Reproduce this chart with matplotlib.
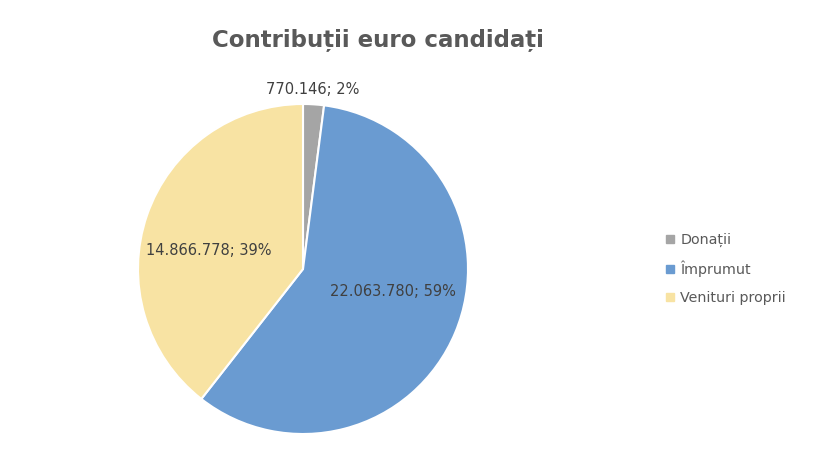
import matplotlib
matplotlib.use("Agg")
import matplotlib.pyplot as plt
import numpy as np

categories = ["Donații", "Împrumut", "Venituri proprii"]
values = [770146, 22063780, 14866778]
colors = ["#A5A5A5", "#6A9BD1", "#F8E3A3"]

W, H = 829, 454
fig = plt.figure(figsize=(W / 100, H / 100), dpi=100)
fig.patch.set_facecolor("white")

cx, cy, r = 303, 269, 165
ax = fig.add_axes([(cx - r) / W, (H - cy - r) / H, 2 * r / W, 2 * r / H])
wedges, _ = ax.pie(values, colors=colors, startangle=90, counterclock=False,
                   radius=1.0, wedgeprops=dict(edgecolor="white", linewidth=1.5))
ax.set_xlim(-1, 1)
ax.set_ylim(-1, 1)
ax.set_aspect("equal")
ax.axis("off")

total = sum(values)
def fmt(v):
    return f"{v:,}".replace(",", ".")

labels = [f"{fmt(v)}; {round(100 * v / total):.0f}%" for v in values]
label_pos = [(0.06, 1.09), (0.545, -0.135), (-0.57, 0.11)]
for lab, (x, y) in zip(labels, label_pos):
    ax.text(x, y, lab, ha="center", va="center", fontsize=10.5, color="#404040",
            family="DejaVu Sans")

fig.text(378 / W, 1 - 40 / H, "Contribuții euro candidați", ha="center", va="center",
         fontsize=16.5, fontweight="bold", color="#595959", family="DejaVu Sans")

handles = [plt.Line2D([], [], marker="s", linestyle="none", markersize=6,
                      markerfacecolor=c, markeredgecolor=c) for c in colors]
leg = fig.legend(handles, categories, loc="center left",
                 bbox_to_anchor=(653 / W, 1 - 269 / H), frameon=False,
                 fontsize=10.3, handlelength=0.6, handletextpad=0.4,
                 labelspacing=0.95, labelcolor="#595959")

fig.savefig("out.png", dpi=100, facecolor="white")
